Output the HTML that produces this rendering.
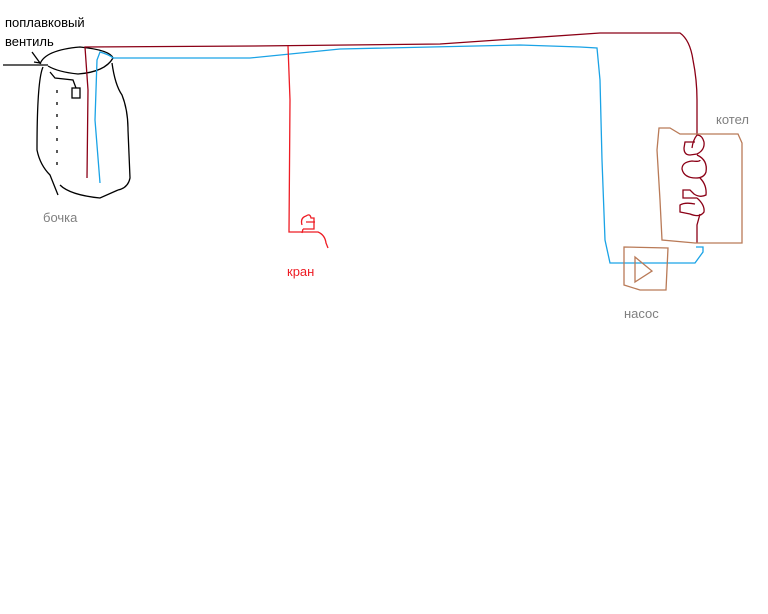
<!DOCTYPE html>
<html><head><meta charset="utf-8"><style>
html,body{margin:0;padding:0;background:#fff;width:768px;height:614px;overflow:hidden}
svg{position:absolute;left:0;top:0}
</style></head><body>
<svg width="768" height="614" viewBox="0 0 768 614" fill="none" stroke-width="1.3" font-family="Liberation Sans, DejaVu Sans, sans-serif" font-size="13">
<g stroke="#000">
<path d="M3,65 L48,65"/>
<path d="M32,52 L40,63 L34,62"/>
<path d="M40,64 Q45,50 80,47 Q110,50 113,58 Q105,72 78,74 Q58,72 48,66"/>
<path d="M43,67 Q37,80 37,150 Q40,165 50,175 L58,195"/>
<path d="M112,63 Q115,85 122,95 Q128,110 128,130 L130,178 Q128,188 118,190"/>
<path d="M60,185 Q70,195 100,198 L118,190"/>
<path d="M50,72 L55,78 L73,80 L76,88"/>
<rect x="72" y="88" width="8" height="10"/>
<path d="M57,90 L57,165" stroke-dasharray="3,9"/>
</g>
<path stroke="#8b0016" d="M87,178 L88,90 L85,47 L255,46 L440,44 L600,33 L640,33 L680,33 Q690,40 693,60 Q697,80 697,100 L697,135 Q693,140 692,148"/>
<path stroke="#8b0016" d="M695,142 L685,142 L684,148 Q684,155 690,155 L697,154 Q705,150 704,142 Q702,135 697,135
M697,155 Q708,160 706,172 Q704,178 696,178 Q684,178 682,169 Q682,162 692,161 Q700,162 700,160
M700,178 Q707,185 706,195 Q700,198 694,194 L690,190 L683,190 L683,198 L697,198
M697,198 Q705,205 704,212 Q700,218 690,214 L680,212 L680,205 Q685,202 695,204
M700,214 L697,225 L697,243"/>
<path stroke="#1aa3e6" d="M100,183 L95,120 L97,60 L100,52 Q110,55 113,58 L250,58 L340,49 L520,45 L580,47 L597,48 L600,80 L602,160 L605,240 L610,263 L695,263 L703,252 L703,247 L696,247"/>
<g stroke="#ee1c24">
<path d="M288,46 L290,100 L289,232 L318,232 Q325,235 326,243 L328,248"/>
<path d="M302,225 Q300,218 306,216 Q310,213 311,218 L314,218 L314,229 L303,229 M306,222 L315,222 M303,229 L302,233"/>
</g>
<path stroke="#b97a57" d="M659,128 L670,128 L680,134 L738,134 L742,143 L742,243 L695,243 L662,240 L660,200 L657,150 Z"/>
<path stroke="#b97a57" d="M624,247 L668,248 L666,290 L640,290 L624,285 Z"/>
<path stroke="#b97a57" d="M635,257 L652,271 L635,282 Z"/>
<g stroke="none">
<text x="5" y="27" fill="#000">поплавковый</text>
<text x="5" y="46" fill="#000">вентиль</text>
<text x="43" y="222" fill="#7f7f7f">бочка</text>
<text x="287" y="276" fill="#ee1c24">кран</text>
<text x="716" y="124" fill="#7f7f7f">котел</text>
<text x="624" y="318" fill="#7f7f7f">насос</text>
</g>
</svg>
</body></html>
